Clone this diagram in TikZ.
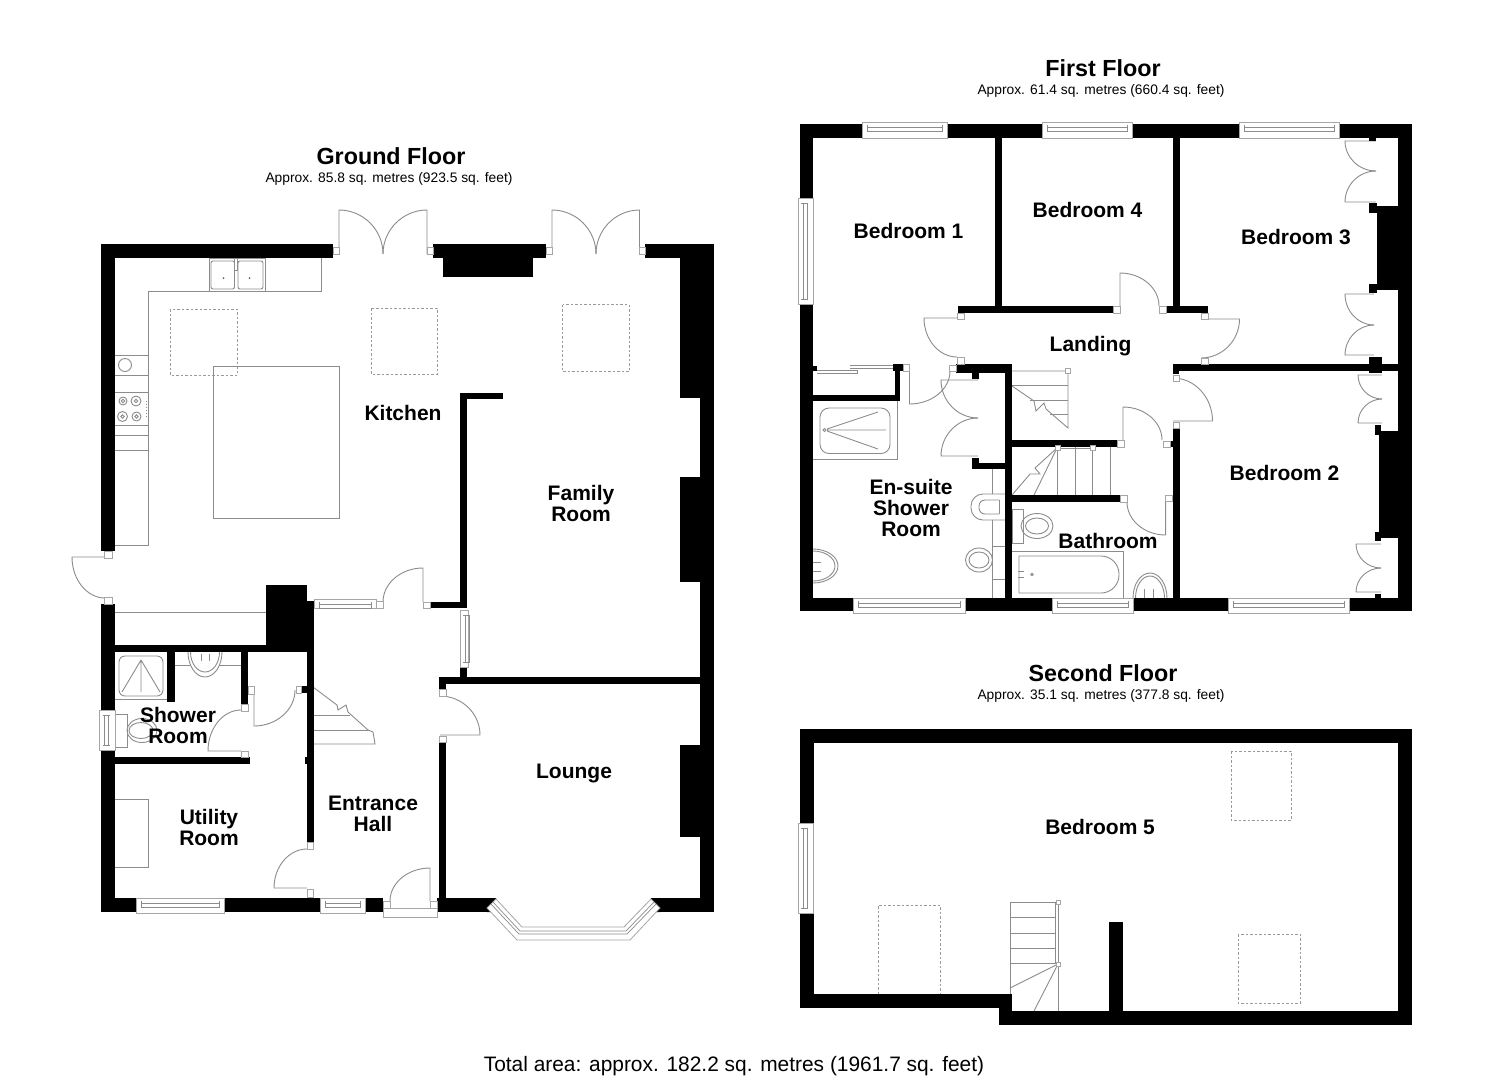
\documentclass[tikz,border=0pt]{standalone}
\usepackage{fontspec}
\setmainfont{Liberation Sans}
\usepackage{tikz}
\usetikzlibrary{calc}
\tikzset{wall/.style={fill=black}}
\tikzset{fixture/.style={draw=black!45,line width=.9pt}}
\tikzset{stub/.style={draw=black!35,fill=white,line width=.8pt}}
\tikzset{skylight/.style={draw=black!40,line width=.9pt,dash pattern=on 2.5pt off 2pt}}
\tikzset{room label/.style={font=\bfseries\fontsize{21}{21}\selectfont,align=center,inner sep=0pt}}
\tikzset{floor title/.style={font=\bfseries\fontsize{23.3}{24}\selectfont,inner sep=0pt}}
\tikzset{floor area/.style={font=\fontsize{13.8}{14}\selectfont,inner sep=0pt}}
\newcommand{\HWIN}[4]{
  \draw [stub] (#1,#3) rectangle (#2,#4);
  \draw [fixture,line width=.7pt] ($(#1,#3)+(5,5)$) -- ($(#2,#3)+(-5,5)$);
  \draw [fixture,line width=.7pt] ($(#1,#3)+(5,9)$) -- ($(#2,#3)+(-5,9)$);
  \draw [fixture,line width=.7pt] ($(#1,#3)+(5,3)$) -- ($(#1,#3)+(5,10)$);
  \draw [fixture,line width=.7pt] ($(#2,#3)+(-5,3)$) -- ($(#2,#3)+(-5,10)$);
}
\newcommand{\VWIN}[4]{
  \draw [stub] (#1,#3) rectangle (#2,#4);
  \draw [fixture,line width=.7pt] ($(#1,#3)+(5,5)$) -- ($(#1,#4)+(5,-5)$);
  \draw [fixture,line width=.7pt] ($(#1,#3)+(9,5)$) -- ($(#1,#4)+(9,-5)$);
  \draw [fixture,line width=.7pt] ($(#1,#3)+(3,5)$) -- ($(#1,#3)+(10,5)$);
  \draw [fixture,line width=.7pt] ($(#1,#4)+(3,-5)$) -- ($(#1,#4)+(10,-5)$);
}

\begin{document}
\begin{tikzpicture}
  [
  x=1pt,y=-1pt,
  ]
  \useasboundingbox [fill=white] (0,0) rectangle (1485,1080);

  % doors: hinge / leaf end / tip
  \foreach \hx/\hy/\px/\py/\tx/\ty in
  {
  339/254/339/210/383/254,
  427/254/427/210/383/254,
  552/254/552/210/596/254,
  639.5/254/639.5/210/596/254,
  105/557/72/557/105/598,
  423/602/423/568/383/602,
  440/735/480/735/440/696,
  307/888/274/888/307/849,
  430/901/430/868/390/901,
  241/751/208/751/241/710,
  254/690/254/726/295/690,
  1120/306/1120/273/1159/306,
  957/318/924/318/957/357,
  1201/319/1239.5/319/1201/358,
  1173/421/1212.5/421/1173/378,
  909.5/371/909.5/404/950/371,
  978/380/941/380/978/418,
  978/456/941/456/978/418,
  1376/141/1345/141/1376/171,
  1376/202/1345/202/1376/171,
  1374/294/1345/294/1374/325,
  1374/355/1345/355/1374/325,
  1382/375/1358/375/1382/399,
  1382/423/1358/423/1382/399,
  1381/544/1356/544/1381/568,
  1381/592/1356/592/1381/568,
  1123/440/1123/407/1162/440,
  1165.6/502/1165.6/535/1127/502
  }
  {
  \draw [fixture] (\hx,\hy) -- (\px,\py)
    .. controls ($(\px,\py)+.55*(\tx,\ty)-.55*(\hx,\hy)$) and ($(\tx,\ty)+.55*(\px,\py)-.55*(\hx,\hy)$) .. (\tx,\ty);
  }

  % skylights
  \foreach \xa/\ya/\xb/\yb in
  {
  170/309/237/375,
  371/308/437/374,
  562.5/304.5/629/371.5,
  1231/751/1291/820,
  1238/934/1300/1003
  }
  {
  \draw [skylight] (\xa,\ya) rectangle (\xb,\yb);
  }
  \draw [skylight] (878,994) -- (878,905) -- (940,905) -- (940,994);

  % kitchen units
  \draw [fixture] (115,545) -- (148,545) -- (148,291) -- (321,291) -- (321,258);
  \draw [fixture] (209,258) rectangle (265,291);
  \draw [fixture,rounded corners=2pt] (211,261) rectangle (234.5,289);
  \draw [fixture,rounded corners=2pt] (238,261) rectangle (263,289);
  \draw [fixture] (234.5,258) rectangle (237.5,270);
  \fill [black!60] (223.5,278) circle (1pt) (249.5,278) circle (1pt);
  \foreach \y in {355,375,392,425,435,450}
  {
  \draw [fixture] (115,\y) -- (148,\y);
  }
  \draw [fixture] (125,365) circle (6.5);
  \foreach \x/\y/\r in {123/401/4,136/401/5,122.5/416.5/5,136.5/416.5/4.5}
  {
  \draw [fixture] (\x,\y) circle (\r) (\x,\y) circle (1.8);
  }
  \draw [fixture,dotted] (146,401) -- (146,416);
  \draw [fixture] (213.5,366) rectangle (339.5,518);

  % back lobby, shower room, utility
  \draw [fixture] (115,612.5) -- (266,612.5);
  \draw [fixture] (115,699) -- (167,699);
  \draw [fixture,rounded corners=6pt] (119,656) rectangle (163,696);
  \draw [fixture] (141,660) -- (122,692) (141,660) -- (141,692) (141,660) -- (160,692);
  \draw [fixture] (175,665) -- (241,665);
  \draw [fixture,fill=white] (188,652) arc [start angle=180,end angle=0,x radius=17,y radius=25];
  \draw [fixture] (190.5,652) arc [start angle=180,end angle=0,x radius=14.5,y radius=20];
  \draw [fixture] (201,654) -- (201,661) (209,654) -- (209,661);
  \draw [fixture] (115,714) rectangle (127.5,747);
  \draw [fixture] (142,730.5) ellipse (15 and 12);
  \draw [fixture] (141,730.5) ellipse (12 and 8);
  \draw [fixture] (115,799) -- (148.5,799) -- (148.5,867) -- (115,867);

  % ground floor stairs
  \draw [fixture] (313,687) -- (337,705) -- (338,710) -- (346,705) -- (348,712) -- (368,730) -- (373,732) -- (375,744) -- (313,744);
  \draw [fixture] (313,715) -- (350,715) (313,730) -- (370,730);

  % first floor fittings
  \draw [fixture] (817,370) -- (857,370) -- (857,373) -- (817,373);
  \draw [fixture] (850,365) -- (893,365) -- (893,368) -- (850,368);
  \draw [fixture] (813,459) -- (897,459) -- (897,401);
  \draw [fixture,rounded corners=9pt] (820,408) rectangle (890,453.5);
  \draw [fixture] (824.5,430) circle (1.5);
  \draw [fixture] (827,429) -- (878,412) (827,430) -- (886,430) (827,431) -- (878,449);
  \draw [fixture] (813,549) arc [start angle=-90,end angle=90,x radius=25,y radius=17];
  \draw [fixture] (813,551) arc [start angle=-90,end angle=90,x radius=22,y radius=15];
  \draw [fixture] (813,562) -- (821,562) (813,571) -- (821,571);
  \draw [fixture] (992,469) -- (992,494) (992,520) -- (992,546) (992,579) -- (992,598);
  \draw [fixture,rounded corners=12pt] (1010,494) -- (971,494) -- (971,520) -- (1010,520);
  \draw [fixture,rounded corners=6pt] (999,500) -- (979,500) -- (979,514) -- (999,514);
  \draw [fixture] (999,500) -- (999,514);
  \draw [fixture] (992,546) rectangle (1005,579);
  \draw [fixture] (979,560) ellipse (13.5 and 12);
  \draw [fixture] (979,560) ellipse (10 and 8);
  \draw [fixture] (1012,509.7) rectangle (1023.5,543);
  \draw [fixture] (1037,526) ellipse (16 and 12.5);
  \draw [fixture] (1037,526) ellipse (11.5 and 8);
  \draw [fixture] (1012,551.7) -- (1123.5,551.7) -- (1123.5,598);
  \draw [fixture] (1060,556) [rounded corners=18pt] -- (1119,556) -- (1119,593) -- (1060,593) [sharp corners] -- (1019,593) -- (1019,556) -- cycle;
  \draw [fixture] (1018,571) -- (1024,571) (1018,577) -- (1024,577);
  \draw [fixture] (1032,574.5) circle (1.2);
  \draw [fixture] (1133,598) arc [start angle=180,end angle=360,x radius=17,y radius=25];
  \draw [fixture] (1135.5,598) arc [start angle=180,end angle=360,x radius=14.5,y radius=22];
  \draw [fixture] (1144,589) -- (1144,598) (1153,589) -- (1153,598);

  % first floor stairs
  \draw [fixture] (1012,371) -- (1068,371) -- (1068,428) -- (1046,409) -- (1044,403) -- (1036,411) -- (1034,401) -- (1012,386);
  \foreach \xa/\y in {1012/385,1030/400,1050/414}
  {
  \draw [fixture] (\xa,\y) -- (1068,\y);
  }
  \foreach \x in {1057.5,1075,1092,1110}
  {
  \draw [fixture] (\x,447) -- (\x,495);
  }
  \draw [fixture] (1057,448) -- (1035,468) -- (1040,474) -- (1030,474) -- (1012,495);
  \draw [fixture] (1057,448) -- (1034,495);
  \draw [fixture] (1057,448) -- (1092,448);

  % second floor stairs
  \foreach \y in {902,917,933,948,963}
  {
  \draw [fixture] (1010,\y) -- (1056,\y);
  }
  \draw [fixture] (1010,902) -- (1010,994);
  \draw [fixture] (1058,965) -- (1058,1011);
  \draw [fixture] (1055,902) rectangle (1058,963);
  \draw [fixture] (1058,964) -- (1010,988) (1058,964) -- (1034,1011);

  % walls
  \foreach \xa/\ya/\xb/\yb in
  {
  101/244/333/258,
  101/244/115/551,
  433/244/546/258,
  443/258/533/277,
  645/244/714/258,
  679.5/244/714/398,
  700/398/714/912,
  679.5/477/714/582,
  679.5/745/714/837,
  439/677/700/684,
  439/677/446/689,
  439/742/446/898,
  460/393/467/606,
  460/393/503/399,
  430/602/467/608,
  460/667/467/677,
  266/585/307/652,
  301/601/314/652,
  307/601/313.5/842,
  101/604/115/710,
  101/750/115/912,
  101/898/136/912,
  224/898/320/912,
  365/898/383/912,
  115/645/266/652,
  167/652/175/702,
  241/652/247.5/704,
  115/757/249.5/764,
  301/686/307/693,
  305/757/308/764,
  307/897/313/900,
  437/898/496/912,
  651/898/714/912,
  800/124/862/138,
  947/124/1042/138,
  1132/124/1239/138,
  1339/124/1412/138,
  800/124/813/198,
  800/304/813/611,
  1398/124/1412/611,
  1377/206/1412/290,
  1369/203/1377/213,
  1369/284/1377/293,
  1369/138/1376/141,
  1173/364/1398/371,
  1369/357/1382/373,
  1379/431/1412/538,
  1375/425/1381/435,
  1375/532/1381/541,
  1375/594/1381/598,
  995/138/1002/306,
  1173/138/1179.5/306,
  957.5/306/1113.7/313,
  1166.5/306/1208/313,
  1173/364/1179/374,
  1173/428/1179.5/598,
  956/364/1012/373,
  972/373/979/379,
  1005/364/1012/598,
  972/463/1005/469,
  972/458/979/463,
  1012/440/1117/447,
  1012/495/1120/502,
  1170/441/1173/447,
  893/364/903/371,
  895/371/900/401,
  813/395/900/401,
  813/366/817/371,
  800/598/853/611,
  965/598/1052/611,
  1133/598/1228/611,
  1349/598/1412/611,
  800/729/1412/743,
  800/729/813.5/823,
  800/913/813.5/1008,
  800/994/1012/1008,
  999/1011/1412/1025,
  999/994/1012/1025,
  1398/729/1412/1025,
  1109/922/1123/1012
  }
  {
  \fill [wall] (\xa,\ya) rectangle (\xb,\yb);
  }
  \fill [wall] (496,898) -- (487,908) -- (487,912) -- (496,912) -- cycle;
  \fill [wall] (651,898) -- (660,908) -- (660,912) -- (651,912) -- cycle;

  % door stubs
  \foreach \xa/\ya/\xb/\yb in
  {
  333/247/339/254,
  427/247/433/254,
  546/247/552/254,
  639/247/645/254,
  104/551/112/558,
  104/597/112/604,
  423/602/430/608,
  376/601/383/608,
  439/689/446/696,
  439/736/446/742,
  307/842/313/849,
  307/889/313/897,
  241/704/248/711,
  241/751/248/757,
  248/686/254/694,
  296/686/301/693,
  383/901/390/908,
  430/901/437/908,
  1113.7/306/1120/313,
  1159.5/306/1166.5/313,
  957/313/964/319,
  957/357/964/364,
  1201/313/1208/319,
  1201/358/1208/364,
  1173/375/1179.5/381,
  1173/422/1179/428,
  903/364/909/371,
  949/365/956/371,
  1117/440/1124/447,
  1120/495/1127/502,
  1163/441/1170/447,
  1165.6/495/1172/501,
  1065/368/1070/373,
  1055/445/1060/450,
  1090/445/1095/450,
  1056/900/1060/904,
  1056/962/1060/966
  }
  {
  \draw [stub] (\xa,\ya) rectangle (\xb,\yb);
  }
  \draw [stub] (383,908) rectangle (437,917);

  % windows
  \HWIN{136}{224}{898}{913}
  \HWIN{320}{365}{898}{913}
  \HWIN{314}{376}{599}{608}
  \HWIN{862}{947}{122}{138}
  \HWIN{1042}{1132}{122}{138}
  \HWIN{1239}{1339}{122}{138}
  \HWIN{853}{965}{598}{613}
  \HWIN{1052}{1133}{598}{613}
  \HWIN{1228}{1349}{598}{613}
  \VWIN{460}{468}{610}{667}
  \VWIN{99.5}{115}{710}{750}
  \VWIN{798}{813}{198}{304}
  \VWIN{798}{813.5}{823}{913}

  % bay window
  \draw [stub] (487,908) -- (517,940) -- (630,940) -- (660,908) -- (651,899) -- (624,927) -- (522,927) -- (496,899) -- cycle;
  \draw [fixture,line width=.7pt] (491,904) -- (519,934) -- (627,934) -- (656,904);
  \draw [fixture,line width=.7pt] (493,902) -- (520,931) -- (626,931) -- (654,902);

  % labels
  \node [floor title] (ground title) at (391,156.5) {Ground Floor};
  \node [floor area] (ground area) at (389,179) {Approx. 85.8 sq. metres (923.5 sq. feet)};
  \node [floor title] (first title) at (1103,68.5) {First Floor};
  \node [floor area] (first area) at (1101,91) {Approx. 61.4 sq. metres (660.4 sq. feet)};
  \node [floor title] (second title) at (1103,673.5) {Second Floor};
  \node [floor area] (second area) at (1101,696) {Approx. 35.1 sq. metres (377.8 sq. feet)};
  \node [inner sep=0pt,font=\fontsize{20.9}{22}\selectfont] (total area) at (734,1066.5) {Total area: approx. 182.2 sq. metres (1961.7 sq. feet)};

  \foreach \n/\x/\y/\l in
  {
  kitchen/403/413/Kitchen,
  family/581/503/Family\\Room,
  lounge/574/773.5/Lounge,
  shower/178/725/Shower\\Room,
  utility/209/827/Utility\\Room,
  hall/373/813.5/Entrance\\Hall,
  bed one/908.5/231/Bedroom 1,
  bed four/1087.5/210/Bedroom 4,
  bed three/1296/237.5/Bedroom 3,
  bed two/1284.5/473/Bedroom 2,
  landing/1090.5/346/Landing,
  ensuite/911/508/En-suite\\Shower\\Room,
  bathroom/1108/541/Bathroom,
  bed five/1103/827/Bedroom 5
  }
  {
  \node [room label] (\n) at (\x,\y) {\l};
  }
\end{tikzpicture}
\end{document}
